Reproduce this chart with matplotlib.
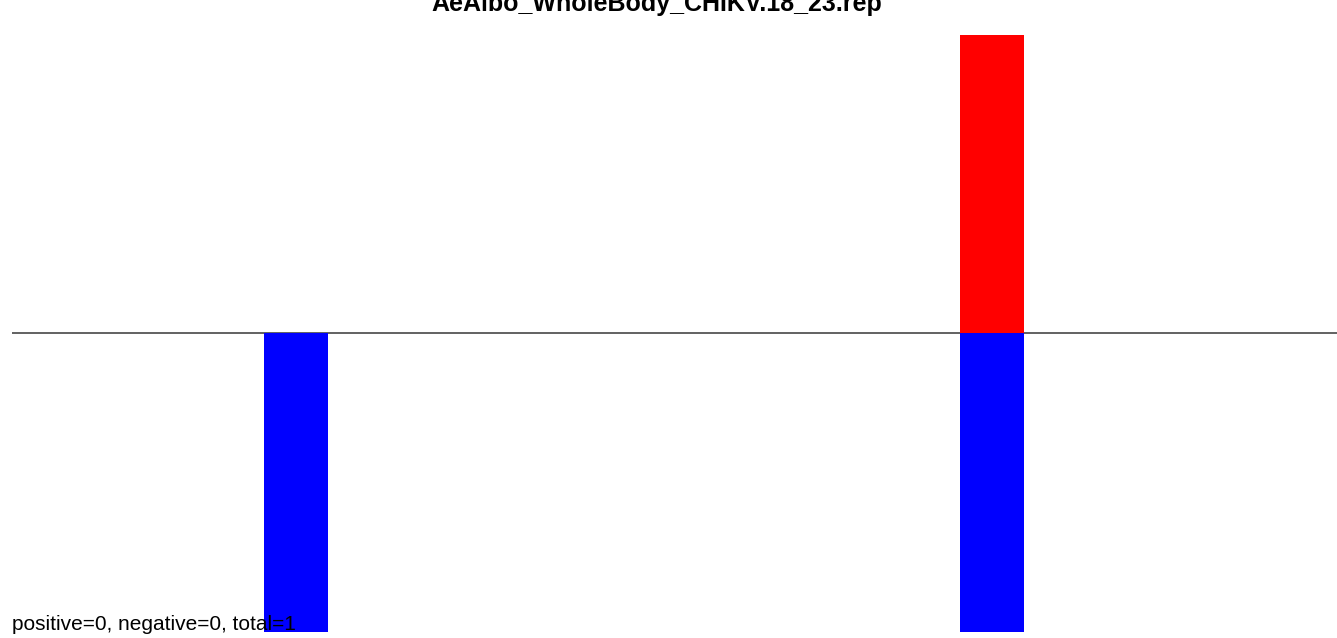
import matplotlib
matplotlib.use("Agg")
import matplotlib.pyplot as plt

plt.rcParams['font.family'] = ['Liberation Sans', 'DejaVu Sans']

title = "AeAlbo_WholeBody_CHIKV.18_23.rep"
summary = "positive=0, negative=0, total=1"
positions = [284, 980]
pos_values = [0, 1]
neg_values = [-1, -1]
bar_width = 64

W, H = 1337, 638
fig = plt.figure(figsize=(W / 100, H / 100), dpi=100)
ax = fig.add_axes([12 / W, (H - 632) / H, (W - 12) / W, (632 - 35) / H])
ax.axis('off')

ax.axhline(0, color='#555555', linewidth=1.3, zorder=1)
ax.bar(positions, pos_values, width=bar_width, bottom=0, color='#ff0000',
       linewidth=0, zorder=2)
ax.bar(positions, neg_values, width=bar_width, bottom=0, color='#0000ff',
       linewidth=0, zorder=2)

ax.set_xlim(0, W - 12)
ax.set_ylim(-1, 1)
fig.text(657 / W, 1 - 11 / H, title, ha='center', va='baseline', fontsize=18, fontweight='bold')
fig.text(12 / W, 1 - 630 / H, summary, ha='left', va='baseline', fontsize=15, zorder=5)

fig.savefig("out.png", dpi=100)
